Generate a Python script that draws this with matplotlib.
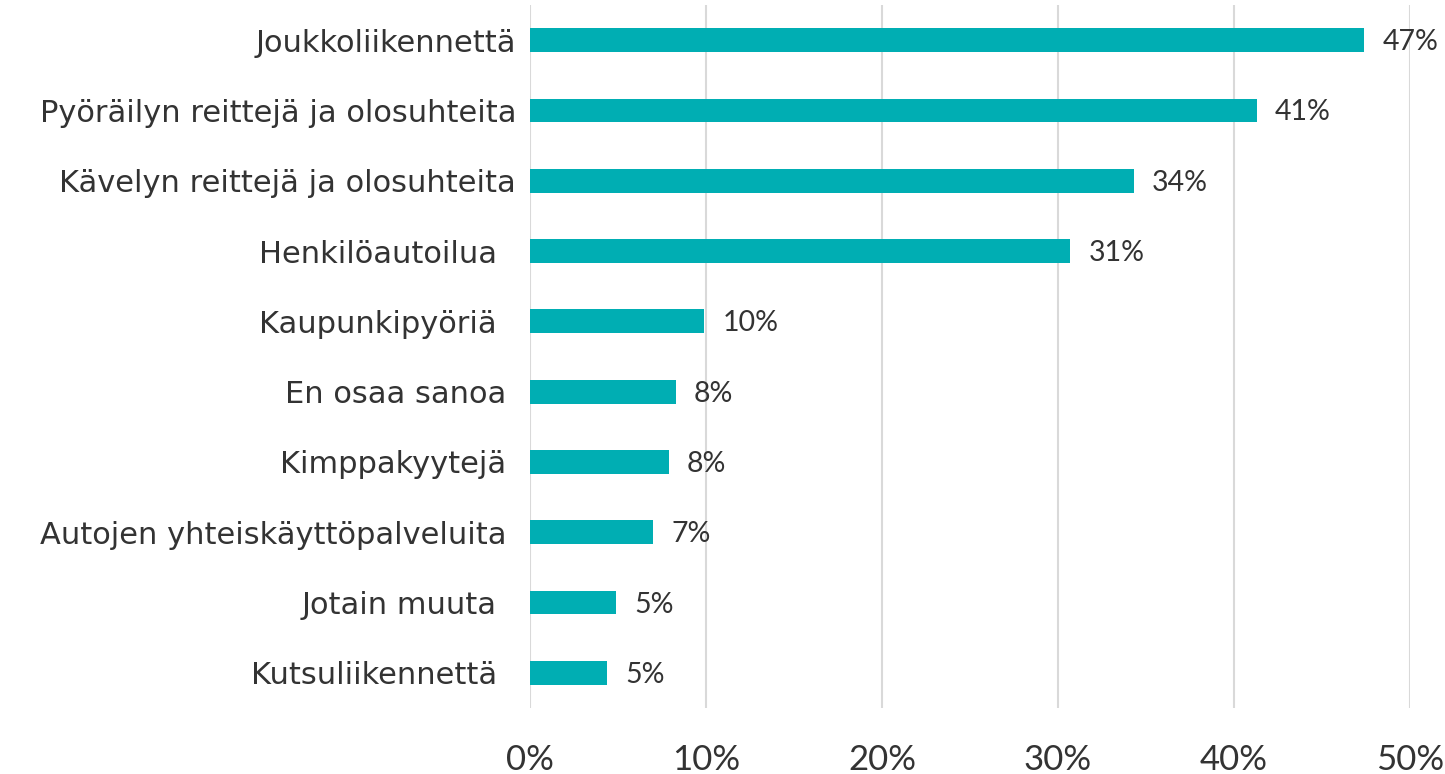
import os
import matplotlib
import matplotlib.pyplot as plt
from matplotlib.font_manager import FontProperties
import numpy as np

# categories top -> bottom (some labels carry trailing spaces like the original)
categories = ['Joukkoliikennettä', 'Pyöräilyn reittejä ja olosuhteita', 'Kävelyn reittejä ja olosuhteita',
              'Henkilöautoilua  ', 'Kaupunkipyöriä  ', 'En osaa sanoa ', 'Kimppakyytejä ',
              'Autojen yhteiskäyttöpalveluita ', 'Jotain muuta  ', 'Kutsuliikennettä  ']
values = [47.4, 41.3, 34.3, 30.7, 9.9, 8.3, 7.9, 7.0, 4.9, 4.4]
value_labels = ['47%', '41%', '34%', '31%', '10%', '8%', '8%', '7%', '5%', '5%']
xticks = [0, 10, 20, 30, 40, 50]
xtick_labels = ['0%', '10%', '20%', '30%', '40%', '50%']

bar_color = '#00AEB3'
text_color = '#333333'

dejavu = os.path.join(matplotlib.get_data_path(), 'fonts', 'ttf', 'DejaVuSans.ttf')
cat_font = FontProperties(fname=dejavu, size=22)

fig = plt.figure(figsize=(14.45, 7.74), dpi=100)
ax = fig.add_axes([0.3668, 0.0853, 0.609, 0.9082])

ypos = np.arange(len(categories))
ax.barh(ypos, values, height=0.34, color=bar_color, zorder=3)
ax.set_ylim(len(categories) - 0.5, -0.5)
ax.set_xlim(0, 50)

for y, v, lab in zip(ypos, values, value_labels):
    ax.annotate(lab, (v, y), xytext=(18, -2), textcoords='offset pixels',
                ha='left', va='center', fontsize=20.5, family='Lato', color=text_color)

ax.set_yticks(ypos, categories)
ax.set_xticks(xticks, xtick_labels)
ax.tick_params(axis='y', length=0, pad=10)
ax.tick_params(axis='x', length=0, pad=26)
for t in ax.get_yticklabels():
    t.set_fontproperties(cat_font)
    t.set_color(text_color)
for t in ax.get_xticklabels():
    t.set_fontfamily('Lato')
    t.set_fontsize(25)
    t.set_color(text_color)

ax.grid(axis='x', color='#D9D9D9', linewidth=1.5, zorder=0)
for s in ax.spines.values():
    s.set_visible(False)

fig.savefig('out.png', dpi=100)
